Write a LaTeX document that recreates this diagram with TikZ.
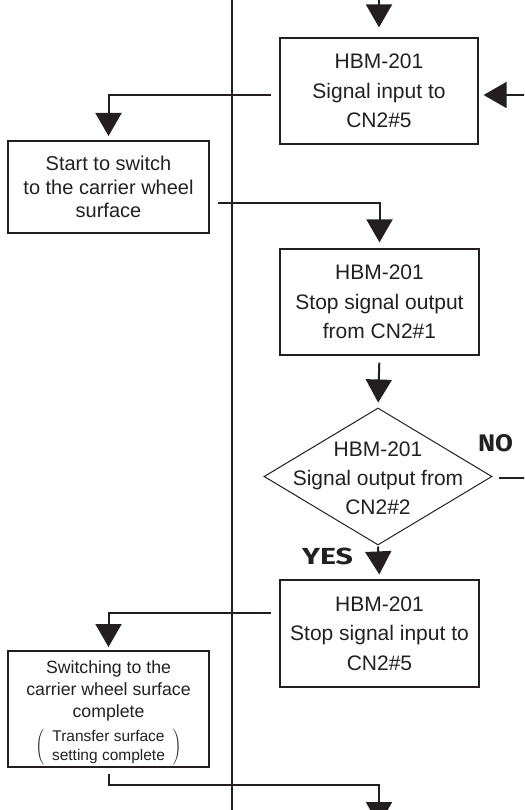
\documentclass[tikz,border=0pt]{standalone}
\usepackage{fontspec}
\setmainfont{Liberation Sans}
\newfontfamily\yesnofont{Fira Sans}
\usetikzlibrary{arrows.meta,shapes.geometric,calc}
\definecolor{ink}{HTML}{231F20}
\begin{document}
\begin{tikzpicture}[x=1pt,y=-1pt,
  every node/.style={text=ink},
  box/.style={draw=ink, line width=1.2pt, inner sep=0pt, align=center,
    font=\fontsize{21}{29.5}\selectfont},
  lbox/.style={draw=ink, line width=2pt, inner sep=0pt, align=center},
  conn/.style={draw=ink, line width=2pt},
  arr/.style={conn, -{Triangle[width=26pt,length=23pt]}},
  yn/.style={inner sep=0pt, font=\yesnofont\bfseries\fontsize{24}{24}\selectfont}
]
\useasboundingbox (0,0) rectangle (524,810);
\clip (0,0) rectangle (524,810);

% vertical divider
\coordinate (vt) at (232,-10);
\coordinate (vb) at (232,820);
\draw[conn] (vt) -- (vb);

% boxes
\node[box, minimum width=198pt, minimum height=106pt] (b1) at (379,91)
  {HBM-201\\Signal input to\\CN2\#5};
\node[lbox, minimum width=201pt, minimum height=92pt,
  font=\fontsize{20}{23.5}\selectfont] (b2) at (108.5,187)
  {Start to switch\\to the carrier wheel\\surface};
\node[box, minimum width=199pt, minimum height=106pt] (b3) at (379.5,302)
  {HBM-201\\Stop signal output\\from CN2\#1};
\node[diamond, draw=ink, line width=1pt, inner sep=0pt,
  minimum width=228pt, minimum height=137pt] (dia) at (378,476.5) {};
\node[align=center, inner sep=0pt, font=\fontsize{21}{29}\selectfont] (dt)
  at ($(dia.center)+(0,2)$) {HBM-201\\Signal output from\\CN2\#2};
\node[box, minimum width=199pt, minimum height=107pt] (b4) at (379.5,633.5)
  {HBM-201\\Stop signal input to\\CN2\#5};
\node[lbox, minimum width=201pt, minimum height=116pt] (b5) at (108.5,709) {};
\node[align=center, inner sep=0pt, font=\fontsize{17.7}{22}\selectfont] (b5t)
  at ($(b5.center)+(0,4.5)$)
  {Switching to the\\carrier wheel surface\\complete\\[6pt]
   $\left(\vcenter{\hbox{\hspace{8pt}\fontsize{15.5}{19}\selectfont
   \begin{tabular}{@{}c@{}}Transfer surface\\setting complete\end{tabular}\hspace{8pt}}}\right)$};

% labels
\node[yn] (no) at (495.5,443.5) {\resizebox{35pt}{17pt}{NO}};
\node[yn] (yes) at (327.5,556) {\resizebox{51pt}{16.5pt}{YES}};

% free ends
\coordinate (in1) at (379,-20);
\coordinate (in2) at (545,95);
\coordinate (noend) at (545,478);
\coordinate (out) at (379,825);

% connectors
\draw[arr, shorten >=10pt] (in1) -- (b1.north);
\draw[arr, shorten >=5pt] (in2) -- ($(b1.east)+(0,4)$);
\draw[arr, shorten <=8pt, shorten >=4pt] ($(b1.west)+(0,4)$) -| (b2.north);
\draw[arr, shorten <=8pt, shorten >=6pt] ($(b2.east)+(0,16)$) -| (b3.north);
\draw[arr, shorten <=7pt, shorten >=5pt] (b3.south) -- (dia.north);
\draw[conn, shorten <=6pt] (dia.east |- noend) -- (noend);
\draw[arr, shorten <=1pt, shorten >=5pt] (dia.south) -- (b4.north);
\draw[arr, shorten <=8pt, shorten >=3pt] ($(b4.west)+(0,-20.5)$) -| (b5.north);
\draw[arr, shorten <=6pt] (b5.south) |- ($(out)+(0,-40)$) -- (out);
\end{tikzpicture}
\end{document}
